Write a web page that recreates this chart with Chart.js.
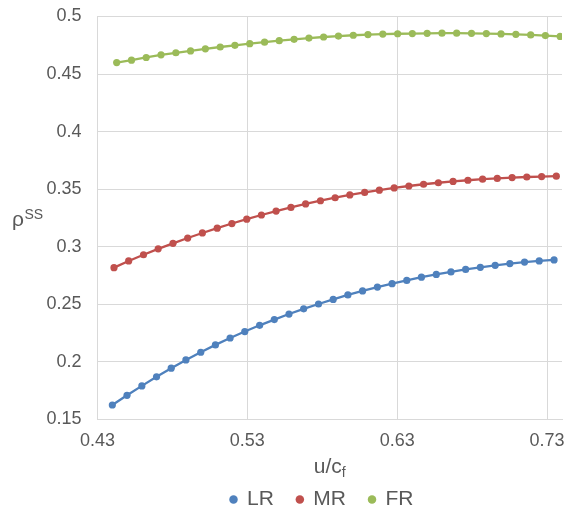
<!DOCTYPE html>
<html>
<head>
<meta charset="utf-8">
<script src="https://cdn.jsdelivr.net/npm/chart.js@4/dist/chart.umd.min.js"></script>
<style>
  html, body { margin: 0; padding: 0; background: #ffffff; }
  #wrap { width: 567px; height: 512px; position: relative; }
</style>
</head>
<body>
<div id="wrap"><canvas id="c"></canvas></div>
<script>
// ---- data ----
const seriesNames = ['LR', 'MR', 'FR'];
const seriesColors = ['#4F81BD', '#C0504D', '#9BBB59'];

const lrX = [0.4399, 0.4497, 0.4596, 0.4694, 0.4792, 0.4890, 0.4989, 0.5087, 0.5185, 0.5283, 0.5382, 0.5480, 0.5578, 0.5676, 0.5775, 0.5873, 0.5971, 0.6069, 0.6168, 0.6266, 0.6364, 0.6462, 0.6561, 0.6659, 0.6757, 0.6855, 0.6954, 0.7052, 0.7150, 0.7248, 0.7347];
const lrY = [0.1626, 0.1710, 0.1792, 0.1871, 0.1946, 0.2017, 0.2084, 0.2148, 0.2208, 0.2264, 0.2318, 0.2368, 0.2416, 0.2461, 0.2503, 0.2543, 0.2582, 0.2617, 0.2650, 0.2680, 0.2708, 0.2736, 0.2760, 0.2782, 0.2803, 0.2822, 0.2839, 0.2854, 0.2867, 0.2877, 0.2886];

const mrX = [0.4410, 0.4508, 0.4607, 0.4705, 0.4804, 0.4902, 0.5000, 0.5099, 0.5197, 0.5296, 0.5394, 0.5492, 0.5591, 0.5689, 0.5788, 0.5886, 0.5984, 0.6083, 0.6181, 0.6280, 0.6378, 0.6476, 0.6575, 0.6673, 0.6772, 0.6870, 0.6968, 0.7067, 0.7165, 0.7264, 0.7362];
const mrY = [0.2819, 0.2877, 0.2931, 0.2982, 0.3030, 0.3076, 0.3120, 0.3162, 0.3202, 0.3240, 0.3276, 0.3310, 0.3342, 0.3372, 0.3400, 0.3426, 0.3450, 0.3472, 0.3492, 0.3511, 0.3528, 0.3543, 0.3556, 0.3568, 0.3578, 0.3587, 0.3594, 0.3601, 0.3606, 0.3610, 0.3613];

const frX = [0.4428, 0.4527, 0.4625, 0.4724, 0.4823, 0.4921, 0.5020, 0.5119, 0.5217, 0.5316, 0.5415, 0.5513, 0.5612, 0.5711, 0.5809, 0.5908, 0.6007, 0.6105, 0.6204, 0.6303, 0.6401, 0.6500, 0.6599, 0.6697, 0.6796, 0.6895, 0.6993, 0.7092, 0.7191, 0.7289, 0.7388];
const frY = [0.4600, 0.4621, 0.4644, 0.4667, 0.4685, 0.4701, 0.4719, 0.4735, 0.4750, 0.4764, 0.4777, 0.4790, 0.4802, 0.4813, 0.4822, 0.4830, 0.4837, 0.4843, 0.4847, 0.4850, 0.4852, 0.4854, 0.4855, 0.4855, 0.4854, 0.4852, 0.4849, 0.4845, 0.4840, 0.4834, 0.4827];

const xTicks = [0.43, 0.53, 0.63, 0.73];
const yTicks = [0.15, 0.2, 0.25, 0.3, 0.35, 0.4, 0.45, 0.5];
const xTitleMain = 'u/c';
const xTitleSub = 'f';
const yTitleMain = 'ρ';
const yTitleSup = 'SS';

// ---- styling ----
const FONT = "'Liberation Sans', Arial, sans-serif";
const TEXT = '#595959';
const GRID = '#D9D9D9';

function pts(xs, ys) { return xs.map((x, i) => ({ x: x, y: ys[i] })); }
const allX = [lrX, mrX, frX];
const allY = [lrY, mrY, frY];

const datasets = seriesNames.map((n, i) => ({
  label: n,
  data: pts(allX[i], allY[i]),
  borderColor: seriesColors[i],
  backgroundColor: seriesColors[i],
  pointBackgroundColor: seriesColors[i],
  pointBorderWidth: 0,
  pointRadius: 3.6,
  pointHoverRadius: 3.6,
  borderWidth: 2.3,
  tension: 0,
  fill: false
}));

const titlesPlugin = {
  id: 'titles',
  afterLayout(chart) {
    const lg = chart.legend;
    if (lg) {
      lg.top += 8; lg.bottom += 8;
      lg.left += 41; lg.right += 41;
    }
  },
  afterDraw(chart) {
    const ctx = chart.ctx;
    const area = chart.chartArea;
    ctx.save();
    ctx.fillStyle = TEXT;
    ctx.textBaseline = 'alphabetic';
    ctx.textAlign = 'left';
    // x title
    ctx.font = '21px ' + FONT;
    const wMain = ctx.measureText(xTitleMain).width;
    ctx.font = '14px ' + FONT;
    const wSub = ctx.measureText(xTitleSub).width;
    const cx = (area.left + area.right) / 2;
    const x0 = cx - (wMain + wSub) / 2;
    ctx.font = '21px ' + FONT;
    ctx.fillText(xTitleMain, x0, 473);
    ctx.font = '14px ' + FONT;
    ctx.fillText(xTitleSub, x0 + wMain, 477);
    // y title
    ctx.font = '21px ' + FONT;
    ctx.fillText(yTitleMain, 12, 226);
    const wr = ctx.measureText(yTitleMain).width;
    ctx.font = '14px ' + FONT;
    ctx.fillText(yTitleSup, 12 + wr + 0.5, 218.5);
    ctx.restore();
  }
};

new Chart(document.getElementById('c'), {
  type: 'line',
  data: { datasets: datasets },
  plugins: [titlesPlugin],
  options: {
    responsive: true,
    maintainAspectRatio: false,
    animation: false,
    layout: { padding: { top: 16.5, right: 5, bottom: 0, left: 0 } },
    plugins: {
      legend: {
        position: 'bottom',
        labels: {
          usePointStyle: true,
          pointStyle: 'circle',
          boxWidth: 6,
          boxHeight: 6,
          padding: 23,
          color: TEXT,
          font: { family: FONT, size: 21 }
        }
      },
      tooltip: { enabled: false }
    },
    scales: {
      x: {
        type: 'linear',
        min: 0.43,
        max: 0.74,
        afterBuildTicks(scale) { scale.ticks = xTicks.map(v => ({ value: v })); },
        afterFit(scale) { scale.height = 38.5; scale.paddingLeft = 0; scale.paddingRight = 0; },
        ticks: {
          color: TEXT,
          font: { family: FONT, size: 18 },
          padding: 11,
          maxRotation: 0,
          autoSkip: false,
          callback: (v) => String(v)
        },
        grid: { color: GRID, lineWidth: 1, drawTicks: false },
        border: { color: GRID, width: 1 }
      },
      y: {
        type: 'linear',
        min: 0.15,
        max: 0.5,
        afterBuildTicks(scale) { scale.ticks = yTicks.map(v => ({ value: v })); },
        afterFit(scale) { scale.width = 97.5; scale.paddingTop = 0; scale.paddingBottom = 0; },
        ticks: {
          color: TEXT,
          font: { family: FONT, size: 18 },
          padding: 16,
          autoSkip: false,
          callback: (v) => String(v)
        },
        grid: { color: GRID, lineWidth: 1, drawTicks: false },
        border: { color: GRID, width: 1 }
      }
    }
  }
});
</script>
</body>
</html>
